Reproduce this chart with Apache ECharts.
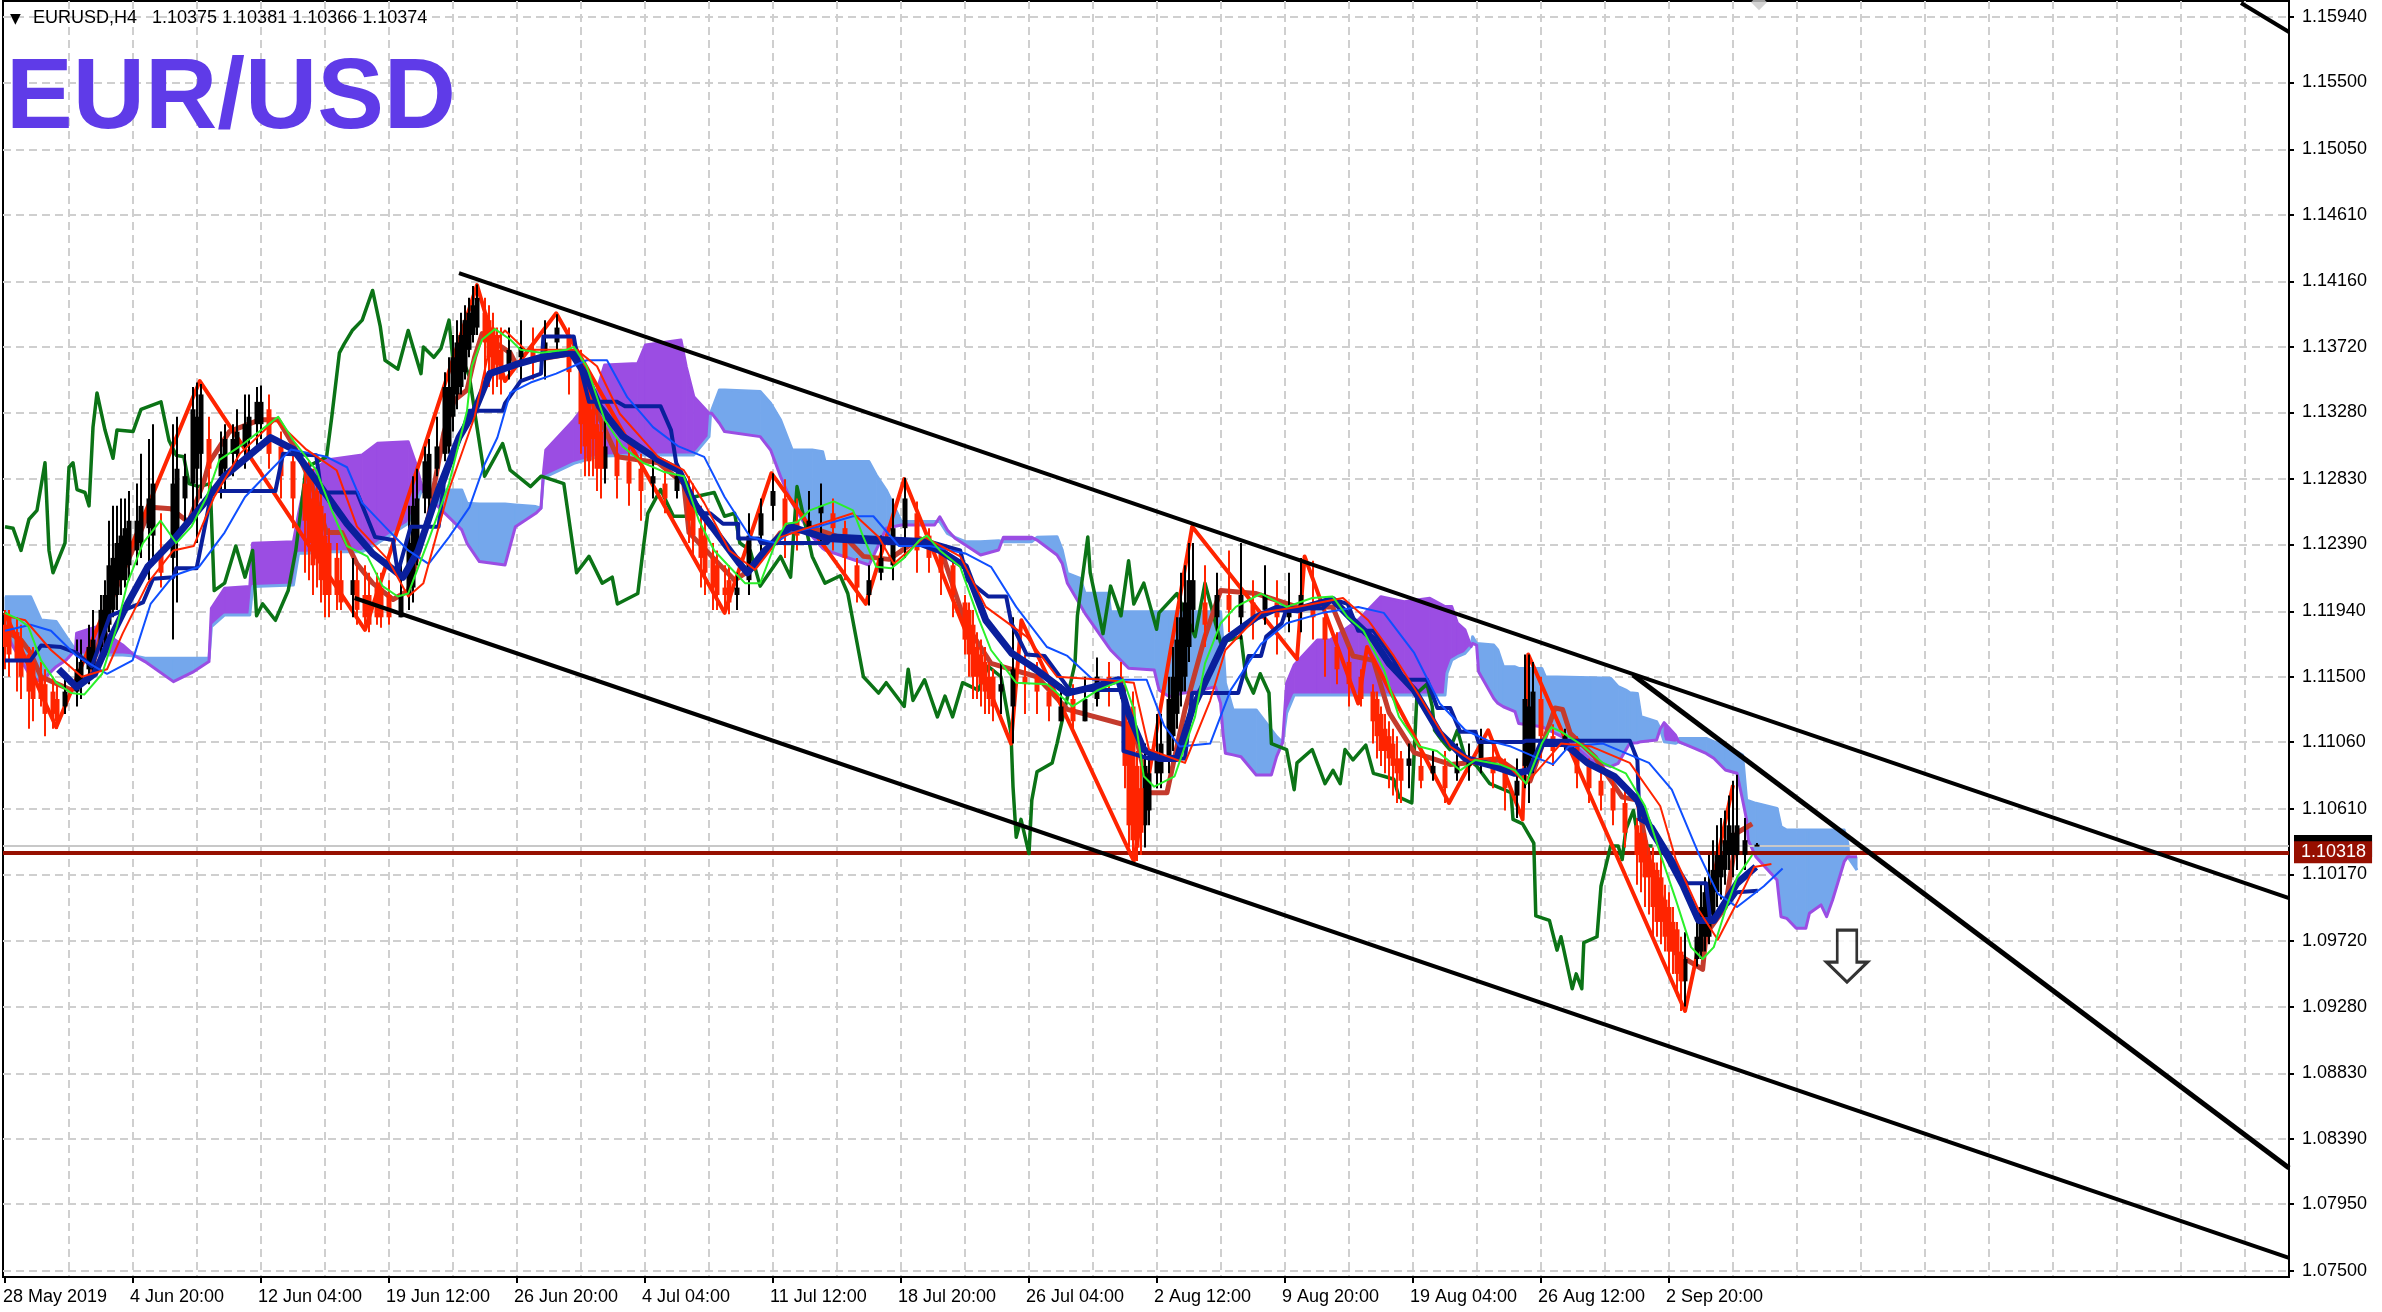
<!DOCTYPE html>
<html><head><meta charset="utf-8">
<style>html,body{margin:0;padding:0;background:#fff}#c{width:2382px;height:1312px}</style>
<script src="https://cdn.jsdelivr.net/npm/echarts@6/dist/echarts.min.js"></script>
</head><body><div id="c"></div>
<script>
const priceTicks=[1.1594,1.155,1.1505,1.1461,1.1416,1.1372,1.1328,1.1283,1.1239,1.1194,1.115,1.1106,1.1061,1.1017,1.0972,1.0928,1.0883,1.0839,1.0795,1.075];
const dateTickBars=[0,32,64,96,128,160,192,224,256,288,320,352,384,416];
const dateTickLabels=['28 May 2019','4 Jun 20:00','12 Jun 04:00','19 Jun 12:00','26 Jun 20:00','4 Jul 04:00','11 Jul 12:00','18 Jul 20:00','26 Jul 04:00','2 Aug 12:00','9 Aug 20:00','19 Aug 04:00','26 Aug 12:00','2 Sep 20:00'];
const gridBars=[16,32,48,64,80,96,112,128,144,160,176,192,208,224,240,256,272,288,304,320,336,352,368,384,400,416,432,448,464,480,496,512,528,544,560];
const bidPrice=1.10318, askPrice=1.10361;
const ohlcHeader='EURUSD,H4   1.10375 1.10381 1.10366 1.10374';

// ichimoku cloud: bar, span A, span B
const cloud=[[0,1.12039,1.11815],[2,1.12039,1.11703],[6.4,1.12039,1.11501],[9,1.11882,1.11467],[12.8,1.11871,1.11568],[15.3,1.1177,1.11613],[17.6,1.1168,1.1168],[17.9,1.11647,1.11793],[23,1.11647,1.11837],[26.2,1.11647,1.1177],[29.4,1.11647,1.11714],[32.5,1.1164,1.1164],[35,1.11624,1.11602],[42.1,1.11624,1.11467],[47.2,1.11624,1.11535],[51,1.11624,1.11602],[51.6,1.11837,1.11961],[54.9,1.11916,1.12095],[61.2,1.11916,1.12107],[61.9,1.12107,1.12398],[72.1,1.12118,1.12409],[73.4,1.12331,1.126],[75.3,1.12331,1.12847],[80.4,1.12342,1.12959],[89.3,1.12342,1.12993],[93.1,1.12398,1.13071],[100.8,1.12533,1.13082],[102.7,1.12645,1.12936],[104,1.12746,1.12802],[104.6,1.12746,1.12746],[105.3,1.12757,1.12723],[114.2,1.12757,1.12488],[115.5,1.12667,1.12398],[118.6,1.12663,1.12275],[125,1.12663,1.12252],[127.6,1.12656,1.1251],[132.7,1.12645,1.126],[134,1.12634,1.12634],[134.6,1.12847,1.12869],[135.2,1.12847,1.13026],[142.2,1.12936,1.13228],[148,1.12981,1.1343],[149.9,1.12986,1.13598],[158.2,1.12993,1.13609],[160.1,1.12993,1.13733],[169,1.12993,1.13766],[170.3,1.12993,1.13587],[172.2,1.12993,1.13385],[176,1.13116,1.13273],[176.4,1.13273,1.13273],[176.7,1.13295,1.13273],[178.6,1.1343,1.13206],[179.9,1.1343,1.1315],[188.8,1.13419,1.13116],[191.4,1.1334,1.13026],[193.9,1.13228,1.12847],[196.8,1.13026,1.12667],[201.8,1.13026,1.12443],[204.4,1.13015,1.12364],[205,1.12948,1.12353],[216,1.12948,1.12252],[217.8,1.12858,1.12353],[220.3,1.12757,1.12499],[224.1,1.12544,1.12521],[232.4,1.12544,1.12521],[233.7,1.12544,1.12577],[235.6,1.12465,1.12488],[237.5,1.12438,1.12432],[240.1,1.12409,1.12387],[243.9,1.12409,1.12319],[248.4,1.12416,1.12353],[249.6,1.12409,1.12438],[256.7,1.12409,1.12438],[258,1.12438,1.1242],[263,1.12443,1.12319],[264.3,1.12353,1.12263],[265.6,1.12196,1.12129],[268.8,1.12162,1.11983],[270,1.12062,1.11927],[275.8,1.12062,1.11703],[276.4,1.11938,1.1168],[280.9,1.11938,1.11557],[287.3,1.11938,1.11546],[288.5,1.11938,1.11411],[291.1,1.11938,1.11366],[294.3,1.11938,1.11389],[297.5,1.11938,1.114],[302.6,1.11938,1.11433],[303.9,1.11938,1.11321],[304.5,1.11725,1.11119],[305.1,1.11456,1.10985],[307,1.11276,1.10974],[309,1.11276,1.10962],[312.8,1.11276,1.10839],[316.6,1.11142,1.10839],[317.9,1.11097,1.10962],[319.4,1.11057,1.11057],[320.4,1.11254,1.11456],[322.3,1.11377,1.11579],[328.1,1.11377,1.11747],[331.3,1.11377,1.11747],[338.3,1.11377,1.11882],[344,1.11377,1.12039],[349.8,1.11377,1.12005],[356.2,1.11377,1.12028],[360,1.11377,1.11972],[360.5,1.11523,1.11972],[361.7,1.11613,1.11972],[363.1,1.11635,1.1186],[365,1.11658,1.11815],[366.5,1.11703,1.11703],[366.9,1.11769,1.11724],[367.9,1.11724,1.11713],[368.4,1.11724,1.11534],[372.2,1.11713,1.11354],[373.2,1.1168,1.11321],[374.6,1.11567,1.11298],[377.5,1.11567,1.11265],[378.4,1.11556,1.11186],[384.2,1.11556,1.11164],[385.1,1.115,1.11152],[390.9,1.11496,1.11074],[396.6,1.11493,1.10939],[401.4,1.11489,1.10895],[403.3,1.11433,1.10917],[405.2,1.1141,1.11007],[406.2,1.11392,1.11052],[408.1,1.11388,1.11056],[409,1.11231,1.11063],[412.9,1.11197,1.11074],[413.8,1.11148,1.11148],[414.8,1.11063,1.11191],[417.6,1.11052,1.11108],[418.4,1.11063,1.11063],[418.6,1.11085,1.11052],[422.4,1.11085,1.11018],[425.3,1.11085,1.10984],[427.2,1.11063,1.10951],[430.1,1.1104,1.10872],[433,1.10995,1.1085],[434.4,1.10973,1.1067],[435.4,1.1067,1.10536],[435.8,1.10659,1.10401],[437.7,1.10648,1.10289],[443,1.10614,1.10132],[444,1.10491,1.09885],[445.4,1.10468,1.09874],[447.8,1.10468,1.09807],[450.2,1.10468,1.09807],[451.1,1.10468,1.09908],[454,1.10468,1.09964],[455.4,1.10468,1.09885],[456.9,1.10468,1.09997],[459.8,1.10468,1.10255],[460.7,1.10379,1.10289],[461,1.10278,1.10278],[463,1.10199,1.10289]];

// lagging span
const chikou=[[0,1.1251],[2,1.125],[4,1.1235],[6,1.1256],[8,1.1262],[10,1.1294],[11,1.1235],[12,1.122],[15,1.124],[16,1.1291],[17,1.1294],[18,1.1276],[20,1.1274],[21,1.1265],[22,1.1318],[23,1.1341],[25,1.1316],[27,1.1297],[28,1.1316],[32,1.1315],[34,1.133],[39,1.1335],[41,1.1309],[42.8,1.1299],[44.7,1.1298],[46,1.128],[48.5,1.1278],[51.3,1.128],[52.3,1.1208],[54.9,1.1213],[57.7,1.1238],[60,1.1217],[61.9,1.1235],[62.9,1.1191],[64.4,1.1199],[67.6,1.1188],[70.8,1.1208],[72.7,1.1235],[75.3,1.1291],[80.4,1.1298],[81.7,1.1325],[83.6,1.1368],[84.8,1.1374],[86.8,1.1383],[89.3,1.139],[91.9,1.141],[93.8,1.1386],[95,1.1363],[98.2,1.1357],[100.8,1.1383],[102,1.1372],[104,1.1354],[104.6,1.1372],[107.2,1.1365],[109,1.1371],[111,1.139],[112.3,1.1354],[114.2,1.1365],[116.1,1.1352],[118,1.1318],[119.9,1.1285],[124.4,1.1307],[126.3,1.1289],[131.4,1.1278],[134,1.1285],[139.7,1.128],[142.9,1.122],[146,1.1231],[149.3,1.1213],[151.8,1.1217],[153.1,1.1199],[158.2,1.1206],[159.5,1.1235],[160.7,1.126],[163.9,1.1276],[167.1,1.1258],[170.3,1.1258],[172.2,1.1271],[177.3,1.1274],[179.9,1.1258],[182.4,1.126],[183.7,1.124],[186.3,1.1235],[188.8,1.1211],[193.9,1.1231],[196.4,1.1217],[198,1.1278],[201.8,1.1231],[205,1.1213],[208.8,1.1218],[210.7,1.1206],[214.6,1.115],[218.4,1.1139],[220.3,1.1146],[224.8,1.113],[225.8,1.1155],[227,1.1134],[229.9,1.1148],[233.1,1.1123],[235,1.1137],[236.9,1.1123],[239.4,1.1146],[243.3,1.1141],[245.8,1.1157],[249,1.115],[251.5,1.1112],[252,1.1076],[252.8,1.1042],[254,1.1054],[256,1.1031],[256.7,1.1067],[258,1.1086],[261.8,1.1092],[263,1.1105],[267.5,1.1159],[268.1,1.1191],[270.7,1.1244],[271.3,1.122],[274.5,1.1179],[276.4,1.1211],[279,1.1191],[280.9,1.1228],[282.2,1.1199],[284.7,1.1213],[287.9,1.1182],[288.5,1.1193],[293,1.1206],[297.5,1.1177],[300,1.1213],[303.9,1.1173],[309,1.1177],[310.2,1.115],[312.1,1.1139],[313.8,1.1152],[316,1.1139],[316.6,1.1105],[320.4,1.1101],[322.3,1.1074],[323,1.1092],[326.8,1.1101],[330,1.1078],[332,1.1087],[333.8,1.1078],[335,1.1101],[337,1.1094],[340.2,1.1104],[342.1,1.1085],[344.7,1.1083],[347.2,1.1081],[348.5,1.1069],[351.7,1.1065],[353,1.1139],[355.5,1.1145],[356.8,1.113],[357.4,1.1114],[359.3,1.1107],[361.2,1.1101],[363.1,1.1114],[365,1.1096],[367.9,1.109],[371.2,1.1078],[376.5,1.1072],[377,1.1054],[379.4,1.1051],[382.2,1.1038],[382.7,1.0989],[386.1,1.0986],[388,1.0966],[389,1.0975],[391.8,1.094],[392.8,1.095],[394.2,1.094],[394.7,1.0971],[398,1.0975],[399,1.1009],[401.4,1.1036],[403.3,1.1036],[404.3,1.1027],[405.2,1.1047],[407.1,1.106],[408.6,1.1036],[411.9,1.1036]];

const zigzag=[[0,1.1193],[12.8,1.1116],[48.7,1.1349],[90,1.11815],[118,1.14136],[125,1.1349],[137.8,1.13946],[179.9,1.1193],[191.6,1.1287],[215.2,1.1199],[224.8,1.1283],[251.5,1.1105],[254.1,1.1188],[282.2,1.1026],[296.8,1.1251],[323,1.1162],[324.9,1.1231],[338.3,1.1132],[340.5,1.1170],[361,1.1065],[370.8,1.1114],[379.4,1.1054],[380.8,1.1165],[420,1.0925],[432,1.1077]];

const fastMA=[[0,1.1193],[3.2,1.1189],[5.8,1.1184],[9,1.1161],[12.8,1.1146],[16.6,1.1139],[19.8,1.1138],[24.3,1.1152],[28,1.1184],[30.6,1.1213],[34.5,1.124],[38.9,1.1255],[42.8,1.124],[46.6,1.1251],[50.4,1.1271],[53.6,1.1296],[58.7,1.1305],[65,1.1318],[68.3,1.1325],[72.1,1.1309],[77.8,1.1289],[81.7,1.1262],[85.5,1.1238],[90.6,1.1231],[94.4,1.1211],[98.2,1.1204],[100.8,1.1206],[105.9,1.1242],[111,1.128],[115.5,1.1329],[116.7,1.1359],[119.3,1.1377],[122.5,1.1384],[126.3,1.1377],[128.9,1.137],[134,1.1368],[140.3,1.137],[142.2,1.1372],[145.4,1.1359],[149.9,1.1323],[154.4,1.1305],[159.5,1.1294],[164.6,1.1288],[169.7,1.1285],[173.5,1.1255],[177.3,1.1235],[181.1,1.1224],[185,1.1213],[188.8,1.1213],[192.6,1.124],[195.2,1.1253],[198,1.1254],[201.2,1.1262],[207.2,1.1268],[212,1.1262],[214.6,1.1244],[217.8,1.1224],[221.6,1.1223],[224.8,1.123],[228.6,1.1242],[230.5,1.1245],[233.7,1.1235],[238.8,1.1224],[243.3,1.119],[246.5,1.1168],[252.8,1.1146],[260.5,1.1145],[266.9,1.113],[273.2,1.1141],[279.6,1.1148],[282.2,1.1128],[284.7,1.1083],[287.3,1.1076],[292.4,1.1083],[297.5,1.1123],[300,1.1159],[303.9,1.1186],[307.7,1.1197],[314,1.1206],[320.4,1.1197],[326.8,1.1203],[331.9,1.1204],[335.7,1.119],[339.6,1.1181],[344.7,1.1155],[348.5,1.1123],[353.6,1.1103],[358,1.11],[363.8,1.1087],[367.6,1.1094],[373.7,1.1091],[377.5,1.1087],[380.3,1.1078],[384.2,1.1105],[386.6,1.1116],[389,1.1113],[393.7,1.1105],[399.5,1.1092],[405.2,1.1085],[410,1.1063],[413.8,1.1031],[417.7,1.1],[421.5,1.0968],[424.4,1.096],[427.2,1.0968],[430.1,1.0993],[433,1.1015],[436.8,1.103]];

const kijun=[[0,1.1161],[6.4,1.1161],[9,1.1171],[14,1.117],[17.9,1.1166],[21.7,1.1157],[26.2,1.1191],[34.5,1.12],[37,1.1216],[42.1,1.1217],[42.8,1.1223],[47.9,1.1223],[51.7,1.1275],[67.6,1.1275],[69.5,1.13],[77.8,1.1299],[79.1,1.1274],[88,1.1274],[92.5,1.1244],[97,1.1242],[98.2,1.122],[101.4,1.1251],[108.4,1.1251],[109.7,1.128],[116.1,1.1329],[124.4,1.1329],[125,1.1334],[128.9,1.1349],[134,1.1354],[134.6,1.1379],[142.2,1.1379],[142.9,1.1368],[146,1.1335],[153.1,1.1335],[155,1.1332],[163.9,1.1332],[166.5,1.1316],[167.8,1.1294],[174.1,1.126],[176.3,1.126],[179.5,1.1253],[183.3,1.1253],[183.3,1.1243],[188.4,1.1243],[189,1.124],[205.6,1.124],[207,1.1245],[221,1.1243],[229.9,1.1242],[238.8,1.1235],[240.7,1.1215],[245.8,1.1204],[250.3,1.1204],[251.6,1.1186],[255.4,1.1165],[259.9,1.1164],[266.2,1.1141],[279.6,1.1141],[279.6,1.11],[286,1.1095],[295,1.1095],[296.8,1.1139],[308.3,1.1139],[310.9,1.1164],[314,1.1164],[315.3,1.1177],[319.2,1.1186],[320.4,1.1196],[329.4,1.1196],[331.9,1.1202],[335.7,1.1199],[338.3,1.1181],[342.1,1.1181],[347.2,1.1161],[349.8,1.1148],[355.5,1.1148],[358.1,1.1129],[361.3,1.1129],[363.8,1.1113],[367.6,1.1113],[368.4,1.1106],[379.4,1.1106],[380.3,1.1107],[406.2,1.1107],[408.1,1.1094],[408.6,1.1054],[411.9,1.1049],[420.5,1.1011],[425.3,1.1011],[426.3,1.0986],[431.1,1.0998],[433,1.1005],[438.2,1.1006]];

const thickMA=[[13.4,1.1155],[17.9,1.1143],[22.4,1.1152],[26.2,1.1175],[30.6,1.1199],[35.7,1.1224],[42.1,1.1242],[49.8,1.1267],[54.9,1.1285],[66.4,1.1311],[72.1,1.1303],[77.8,1.1282],[85.5,1.1253],[91.9,1.1233],[99.5,1.1217],[103.3,1.1235],[108.4,1.1276],[113.5,1.1311],[117.4,1.1329],[121.2,1.1354],[127.6,1.136],[134,1.1365],[141.6,1.1368],[145.4,1.1352],[148.6,1.1332],[154.4,1.1312],[163.3,1.1296],[168.4,1.1289],[172.2,1.1267],[177.3,1.1249],[183.7,1.1226],[185.6,1.122],[190,1.1235],[196.4,1.1251],[205.6,1.1243],[212,1.1242],[221,1.1241],[228.6,1.124],[233.7,1.1235],[240.1,1.1224],[245.2,1.1188],[251.6,1.1166],[256.7,1.1157],[265.6,1.1139],[272,1.1143],[278.4,1.1148],[280.9,1.1125],[284.7,1.1101],[288.5,1.1095],[293,1.1095],[296.8,1.1128],[305.1,1.1175],[312.8,1.119],[317.9,1.1196],[323,1.1195],[331.9,1.1202],[337,1.1188],[342.1,1.1175],[346,1.1159],[352.3,1.1141],[358.7,1.1112],[365.1,1.1095],[372,1.109],[377.5,1.1085],[381.3,1.1087],[384.2,1.1105],[389.9,1.1105],[395.6,1.1092],[402.3,1.1083],[408.1,1.1067],[411.9,1.1045],[415.7,1.1029],[419.6,1.1009],[423.4,1.0986],[427.2,1.0986],[433,1.1011],[437.7,1.1022]];

const tenkan=[[0,1.1181],[3.9,1.1175],[6.4,1.1166],[9,1.115],[16.6,1.1141],[21.1,1.115],[26.2,1.1199],[29.4,1.122],[33.8,1.1247],[36.4,1.1264],[41.5,1.1263],[45.9,1.1254],[49.8,1.1282],[51,1.1294],[56.1,1.1315],[63.8,1.1323],[68.3,1.1323],[72.7,1.1303],[76.6,1.128],[80.4,1.1247],[84.2,1.1247],[88,1.1226],[91.9,1.1213],[97,1.1202],[100.8,1.1208],[105.9,1.1258],[109.7,1.1314],[112.3,1.1336],[115.5,1.1343],[117.4,1.1365],[119.3,1.1381],[126.3,1.1368],[127.6,1.1361],[142.9,1.1368],[147.3,1.1332],[153.1,1.1298],[163.3,1.1294],[169.7,1.128],[171,1.1247],[182.4,1.1215],[187.5,1.1224],[193.9,1.1247],[203.1,1.1249],[210.7,1.1242],[214.6,1.1231],[221,1.1229],[228.6,1.1243],[233.7,1.1238],[240.1,1.1186],[246.5,1.1159],[258,1.115],[265.6,1.1128],[282.2,1.1116],[286,1.1072],[290.5,1.1072],[295,1.1128],[300,1.1177],[303.9,1.1208],[312.8,1.1206],[323,1.1197],[331.9,1.1197],[337,1.1164],[342.1,1.1161],[346,1.1126],[352.3,1.1099],[361.3,1.1091],[373.8,1.1094],[381.3,1.108],[384.2,1.1103],[387.5,1.1129],[389.4,1.1128],[391.3,1.1112],[397.5,1.1096],[404.3,1.1069],[408.1,1.1067],[411,1.1027],[413.8,1.1004],[417.7,1.0964],[424.4,1.0953],[425.3,1.0977],[430.1,1.0995],[433,1.1045],[436.8,1.1051]];

const slowBlue=[[0,1.1181],[6.4,1.1185],[11.5,1.1181],[17.9,1.1164],[25.5,1.1152],[31.9,1.1161],[36.4,1.1199],[42.1,1.1218],[48.5,1.1224],[54.9,1.1247],[60,1.1271],[66.4,1.1289],[71.5,1.1303],[80.4,1.1298],[85.5,1.1291],[89.3,1.1267],[95.7,1.1249],[100.8,1.1235],[105.9,1.1226],[111,1.1244],[116.1,1.1264],[119.9,1.1293],[123.1,1.1311],[126.3,1.1341],[131.4,1.1348],[137.8,1.1354],[145.4,1.1363],[150.5,1.1363],[155.6,1.1338],[162,1.1318],[168.4,1.1305],[174.8,1.1298],[179.9,1.1271],[186.3,1.1244],[192.6,1.124],[196.4,1.1247],[203.1,1.1251],[212,1.1258],[217.1,1.1258],[223.5,1.1238],[231.2,1.1238],[240.1,1.1233],[246.5,1.1224],[252.8,1.1197],[260.5,1.117],[265.6,1.1164],[272,1.1148],[285.4,1.1148],[289.8,1.1117],[293.7,1.1103],[301.3,1.1105],[306.4,1.1141],[314,1.1172],[320.4,1.1186],[329.4,1.1193],[338.3,1.1197],[344.7,1.1193],[352.3,1.1166],[358.7,1.1132],[365.1,1.1114],[370.8,1.1107],[376.5,1.1103],[384.2,1.1094],[387,1.1091],[390.9,1.1103],[399.5,1.1105],[411,1.1092],[416.7,1.1074],[423.4,1.1031],[428.2,1.1004],[433,1.0995],[439.7,1.1009],[444.4,1.1021]];

const slowRed=[[0,1.1191],[5.1,1.1188],[11.5,1.1168],[19.2,1.115],[25.5,1.1155],[29.4,1.1179],[35.7,1.1213],[42.1,1.1235],[47.2,1.1238],[52.3,1.1271],[58.7,1.13],[67.6,1.1323],[75.3,1.1303],[82.9,1.1289],[88,1.1251],[95.7,1.1229],[100.8,1.1204],[104.6,1.1213],[111,1.1276],[117.4,1.1325],[121.2,1.1372],[125,1.1383],[130.1,1.137],[142.9,1.137],[148,1.1359],[153.7,1.1327],[163.3,1.1298],[169.7,1.1289],[174.8,1.1267],[181.1,1.1235],[187.5,1.1222],[193.9,1.1244],[199.3,1.1249],[212,1.126],[218.4,1.1244],[222.2,1.1226],[229.9,1.1244],[238.8,1.1231],[245.2,1.1197],[255.4,1.1177],[263,1.115],[274.5,1.1148],[282.2,1.1146],[286,1.1101],[295,1.1092],[301.3,1.1134],[305.1,1.1168],[314,1.1193],[323,1.1197],[334.5,1.1203],[340.8,1.1188],[347.2,1.1164],[353.6,1.1137],[361.3,1.1103],[366.4,1.1094],[373.6,1.1096],[380.3,1.1078],[389,1.1105],[396.6,1.1103],[406.2,1.1092],[413.8,1.1063],[417.7,1.1027],[423.4,1.0993],[428.2,1.0973],[433,1.0998],[437.3,1.1022],[441.6,1.1024]];

// price bars
const barIndex=[0,3,6,9,12,15,18,21,24,27,30,33,36,39,42,45,48,51,54,57,60,63,66,69,72,75,78,81,84,87,90,93,96,99,102,105,108,111,114,117,120,123,126,129,132,135,138,141,144,147,150,153,156,159,162,165,168,171,174,177,180,183,186,189,192,195,198,201,204,207,210,213,216,219,222,225,228,231,234,237,240,243,246,249,252,255,258,261,264,267,270,273,276,279,282,285,288,291,294,297,300,303,306,309,312,315,318,321,324,327,330,333,336,339,342,345,348,351,354,357,360,363,366,369,372,375,378,381,384,387,390,393,396,399,402,405,408,411,414,417,420,423,426,429,432,435,438];
const barOpen=[1.1185,1.118,1.1165,1.115,1.114,1.113,1.114,1.1155,1.117,1.1195,1.1215,1.1235,1.125,1.1235,1.123,1.127,1.129,1.131,1.1285,1.13,1.1305,1.132,1.133,1.1305,1.1295,1.128,1.1275,1.124,1.1215,1.1205,1.1205,1.121,1.1205,1.119,1.121,1.127,1.129,1.1305,1.1345,1.138,1.1395,1.138,1.136,1.1365,1.137,1.1368,1.1375,1.138,1.136,1.133,1.129,1.13,1.1295,1.129,1.128,1.128,1.1275,1.1275,1.125,1.123,1.121,1.1205,1.1215,1.1245,1.1265,1.127,1.1255,1.125,1.126,1.126,1.125,1.1225,1.1205,1.122,1.1225,1.125,1.126,1.1245,1.1235,1.1225,1.12,1.117,1.115,1.114,1.113,1.115,1.115,1.114,1.112,1.1135,1.112,1.1135,1.115,1.115,1.113,1.105,1.1085,1.1095,1.114,1.1195,1.12,1.119,1.1205,1.119,1.12,1.1195,1.12,1.119,1.1195,1.12,1.119,1.117,1.116,1.115,1.114,1.1115,1.1095,1.109,1.109,1.1085,1.109,1.1085,1.109,1.1095,1.1095,1.1085,1.107,1.1085,1.1135,1.111,1.1105,1.1105,1.109,1.108,1.1075,1.1065,1.105,1.103,1.1015,1.0985,1.0945,1.096,1.0975,1.1015,1.103,1.103,1.1037];
const barClose=[1.117,1.116,1.114,1.1135,1.1125,1.114,1.1155,1.117,1.1195,1.123,1.125,1.1255,1.127,1.122,1.128,1.1285,1.1325,1.129,1.13,1.131,1.132,1.1335,1.13,1.1285,1.127,1.1255,1.123,1.1205,1.12,1.1215,1.119,1.119,1.119,1.1205,1.1265,1.1295,1.1305,1.1345,1.138,1.14,1.1375,1.136,1.137,1.1372,1.1365,1.1375,1.1385,1.1355,1.132,1.131,1.1305,1.1285,1.128,1.1275,1.1285,1.127,1.1285,1.1255,1.123,1.121,1.1205,1.121,1.1245,1.126,1.1275,1.125,1.1245,1.1255,1.1265,1.125,1.123,1.121,1.1215,1.123,1.125,1.127,1.1235,1.123,1.122,1.1205,1.1175,1.115,1.1135,1.1145,1.1155,1.1145,1.114,1.113,1.113,1.112,1.1135,1.115,1.1145,1.1145,1.104,1.109,1.1095,1.1135,1.119,1.1215,1.1185,1.1205,1.1195,1.1205,1.119,1.1205,1.119,1.1195,1.1205,1.119,1.1175,1.1155,1.1145,1.1135,1.112,1.11,1.1085,1.1095,1.108,1.109,1.1075,1.109,1.1095,1.1105,1.1085,1.1075,1.108,1.113,1.111,1.11,1.111,1.1085,1.1075,1.107,1.106,1.1045,1.103,1.1015,1.0985,1.0965,1.096,1.0975,1.101,1.103,1.1045,1.104,1.1037];
const barLow=[1.1155,1.114,1.1115,1.113,1.1115,1.1125,1.113,1.1145,1.1165,1.119,1.121,1.1225,1.1215,1.121,1.1175,1.125,1.124,1.1265,1.127,1.1285,1.129,1.1305,1.129,1.127,1.125,1.122,1.121,1.119,1.1195,1.119,1.1185,1.1185,1.1185,1.119,1.12,1.126,1.1285,1.13,1.134,1.1375,1.1345,1.1345,1.135,1.135,1.135,1.135,1.1365,1.134,1.13,1.1285,1.128,1.127,1.1265,1.1255,1.127,1.126,1.127,1.124,1.121,1.1195,1.1192,1.1195,1.1205,1.123,1.1255,1.123,1.1235,1.1245,1.124,1.1235,1.1215,1.12,1.1198,1.1215,1.1215,1.123,1.122,1.122,1.1205,1.119,1.1165,1.1135,1.1125,1.1125,1.1105,1.1125,1.1125,1.112,1.112,1.1115,1.112,1.113,1.113,1.1135,1.1026,1.1035,1.1075,1.1085,1.113,1.118,1.117,1.1175,1.118,1.1175,1.1175,1.1185,1.1165,1.118,1.118,1.1175,1.115,1.1145,1.113,1.113,1.1105,1.1085,1.1065,1.1075,1.1075,1.108,1.1065,1.108,1.108,1.1085,1.1075,1.106,1.1055,1.1065,1.1095,1.109,1.11,1.1075,1.1065,1.106,1.105,1.1035,1.101,1.099,1.097,1.095,1.0928,1.0955,1.097,1.1,1.1015,1.102,1.10366];
const barHigh=[1.1195,1.119,1.117,1.116,1.115,1.115,1.1175,1.1185,1.1205,1.1265,1.127,1.128,1.131,1.126,1.132,1.13,1.1348,1.1325,1.1315,1.132,1.134,1.1345,1.134,1.1315,1.1305,1.1295,1.1285,1.125,1.1235,1.123,1.1225,1.122,1.1215,1.1225,1.1285,1.1305,1.1325,1.1365,1.1395,1.1413,1.1405,1.1385,1.1385,1.139,1.1385,1.139,1.1394,1.1385,1.137,1.1345,1.133,1.131,1.1305,1.13,1.13,1.129,1.1295,1.1285,1.1265,1.124,1.1225,1.122,1.126,1.127,1.1287,1.1283,1.127,1.1275,1.128,1.127,1.1255,1.123,1.1225,1.1245,1.127,1.1284,1.1268,1.125,1.124,1.123,1.1205,1.118,1.116,1.116,1.119,1.1165,1.116,1.115,1.1145,1.1145,1.115,1.1163,1.116,1.116,1.114,1.1105,1.1125,1.115,1.122,1.124,1.1225,1.122,1.1235,1.124,1.1215,1.1225,1.1215,1.122,1.123,1.1228,1.1195,1.118,1.117,1.1155,1.1145,1.1125,1.111,1.1105,1.11,1.11,1.11,1.1105,1.1105,1.1115,1.1105,1.1095,1.1095,1.1165,1.115,1.1118,1.1115,1.111,1.1095,1.1088,1.108,1.1075,1.1055,1.1035,1.103,1.0995,1.0978,1.099,1.103,1.1055,1.108,1.1055,1.10381];
// further bars in the dense rallies and falls: bar, open, close, low, high
const denseBars=[[19,1.1145,1.116,1.1135,1.1175],[22,1.1155,1.1175,1.115,1.1195],[25,1.1175,1.1205,1.117,1.1215],[26,1.1185,1.1225,1.118,1.1255],[28,1.1205,1.124,1.1195,1.1265],[29,1.1215,1.1245,1.1205,1.127],[31,1.1225,1.1255,1.1215,1.1275],[34,1.124,1.1265,1.123,1.13],[37,1.1245,1.128,1.1225,1.132],[43,1.1245,1.129,1.12,1.1325],[47,1.128,1.133,1.1255,1.1345],[49,1.13,1.134,1.127,1.1347],[55,1.129,1.131,1.1275,1.132],[58,1.13,1.1315,1.129,1.133],[61,1.131,1.1325,1.13,1.134],[64,1.132,1.1335,1.131,1.1346],[101,1.1205,1.124,1.1195,1.1265],[103,1.1235,1.127,1.1225,1.129],[106,1.127,1.13,1.126,1.131],[110,1.13,1.1345,1.1295,1.1355],[112,1.1325,1.1365,1.1315,1.138],[113,1.134,1.1375,1.133,1.139],[115,1.1355,1.139,1.135,1.14],[116,1.137,1.1395,1.1365,1.1405],[118,1.1385,1.1405,1.138,1.1414],[1,1.119,1.1165,1.115,1.1195],[4,1.1175,1.115,1.1135,1.1185],[7,1.116,1.1135,1.112,1.117],[10,1.1145,1.1125,1.111,1.1155],[13,1.1135,1.112,1.1115,1.1145],[76,1.1285,1.124,1.1215,1.1295],[77,1.127,1.1225,1.1205,1.129],[79,1.1265,1.1215,1.12,1.1275],[80,1.1245,1.1205,1.119,1.126],[83,1.123,1.1205,1.1195,1.124],[88,1.1215,1.1195,1.1185,1.1225],[91,1.1205,1.1185,1.118,1.122],[94,1.121,1.119,1.1183,1.122],[121,1.139,1.1365,1.1345,1.14],[122,1.1385,1.1355,1.134,1.1395],[124,1.137,1.135,1.134,1.1385],[145,1.135,1.1305,1.1285,1.136],[146,1.1345,1.1295,1.1285,1.135],[148,1.132,1.129,1.1275,1.1335],[149,1.1315,1.129,1.127,1.1325],[172,1.127,1.1245,1.123,1.128],[175,1.1245,1.122,1.1205,1.1255],[178,1.1225,1.1205,1.1195,1.1235],[181,1.1215,1.12,1.1192,1.1225],[241,1.1195,1.1165,1.115,1.12],[242,1.1185,1.115,1.1135,1.1195],[244,1.1165,1.1145,1.113,1.1175],[245,1.116,1.114,1.1125,1.117],[247,1.115,1.113,1.112,1.1155],[280,1.1125,1.109,1.1075,1.1145],[281,1.112,1.105,1.1035,1.113],[283,1.109,1.1035,1.1026,1.11],[284,1.1075,1.1045,1.103,1.109],[286,1.106,1.1085,1.105,1.11],[289,1.1085,1.1105,1.1075,1.1125],[292,1.111,1.115,1.11,1.117],[293,1.1125,1.1175,1.1115,1.119],[295,1.115,1.12,1.114,1.1225],[296,1.117,1.1215,1.116,1.124],[343,1.1135,1.111,1.1095,1.114],[344,1.1125,1.11,1.109,1.113],[346,1.111,1.1095,1.1075,1.112],[347,1.1105,1.109,1.107,1.1115],[349,1.1095,1.108,1.1065,1.11],[380,1.109,1.1135,1.1075,1.1165],[382,1.1095,1.114,1.1085,1.116],[409,1.1045,1.1025,1.1005,1.105],[410,1.104,1.1015,1.0995,1.1045],[412,1.1025,1.0995,1.0975,1.1035],[413,1.102,1.0985,1.0975,1.1025],[415,1.1,1.0975,1.0965,1.101],[416,1.0995,1.0965,1.095,1.1005],[418,1.098,1.095,1.0935,1.0985],[419,1.0965,1.0945,1.0925,1.0975],[424,1.0965,1.0995,1.096,1.101],[425,1.0975,1.1005,1.0965,1.1015],[427,1.099,1.102,1.0985,1.104],[428,1.1005,1.103,1.0995,1.105],[430,1.102,1.104,1.101,1.106],[431,1.103,1.105,1.102,1.107],[433,1.103,1.105,1.102,1.1084]];

const upperChannel=[[113.5,1.14217],[571,1.1001]];
const lowerChannel=[[87.4,1.1203],[571,1.07588]];
const steepTrend=[[407,1.11511],[571,1.08193]];
const cornerTrend=[[559,1.16034],[571,1.15839]];
const arrowMark=[[460.5,1.0962]];
const shiftMark=[[438.5,1.1604]];

const BLUE='#74a7ec',PURPLE='#9b4de3';
const allBars=barIndex.map((b,i)=>[b,barOpen[i],barClose[i],barLow[i],barHigh[i]]).concat(denseBars);
const line=(name,data,color,width,z)=>({name,type:'line',data,symbol:'none',showSymbol:false,xAxisIndex:0,
  lineStyle:{color,width,join:'round'},itemStyle:{color},z,silent:true,animation:false,clip:true});

const chart=echarts.init(document.getElementById('c'),null,{renderer:'canvas'});
chart.setOption({
  animation:false,backgroundColor:'#fff',
  title:[
    {text:'EUR/USD',left:6,top:50,padding:0,textStyle:{fontFamily:'Liberation Sans',fontWeight:'bold',fontSize:100,color:'#5f3be8'}},
    {text:ohlcHeader,left:33,top:9,padding:0,textStyle:{fontFamily:'Liberation Sans',fontWeight:'normal',fontSize:18,color:'#000'}},
    {text:'▼',left:10,top:12,padding:0,textStyle:{fontFamily:'DejaVu Sans',fontWeight:'normal',fontSize:14,color:'#000'}}
  ],
  grid:{left:3,right:93,top:1,bottom:35,show:true,borderColor:'#000',borderWidth:2,backgroundColor:'#fff'},
  xAxis:[
    {type:'value',min:-0.5,max:571,position:'bottom',axisLine:{show:false},axisTick:{show:false,customValues:gridBars},
     axisLabel:{show:false,customValues:gridBars},
     splitLine:{show:true,lineStyle:{color:'#cfcfcf',width:2,type:[8,5]}}},
    {type:'value',min:-0.5,max:571,position:'bottom',
     axisLine:{show:true,onZero:false,lineStyle:{color:'#000',width:2}},
     axisTick:{show:true,length:6,customValues:dateTickBars,lineStyle:{color:'#000',width:2}},
     axisLabel:{show:true,customValues:dateTickBars.map(b=>b===0?-0.5:b-0.75),align:'left',margin:11,
       fontFamily:'Liberation Sans',fontSize:18,color:'#000',hideOverlap:false,
       formatter:v=>dateTickLabels[dateTickBars.indexOf(v===-0.5?0:v+0.75)]},
     splitLine:{show:false}}
  ],
  yAxis:{type:'value',min:1.0746,max:1.16048,position:'right',
    axisLine:{show:true,onZero:false,lineStyle:{color:'#000',width:2}},
    axisTick:{show:true,length:5,customValues:priceTicks,lineStyle:{color:'#000',width:2}},
    axisLabel:{show:true,customValues:priceTicks,margin:13,padding:[3,0,0,0],fontFamily:'Liberation Sans',fontSize:18,color:'#000',formatter:v=>v.toFixed(5)},
    splitLine:{show:true,lineStyle:{color:'#cfcfcf',width:2,type:[8,5]}}},
  series:[
    {name:'cloud',type:'custom',data:cloud,xAxisIndex:0,z:2,silent:true,clip:true,encode:{x:0,y:[1,2]},
     renderItem(params,api){
       const i=params.dataIndex; if(i>=cloud.length-1) return null;
       const a=cloud[i],b=cloud[i+1];
       return {type:'polygon',shape:{points:[api.coord([a[0],a[1]]),api.coord([b[0],b[1]]),api.coord([b[0],b[2]]),api.coord([a[0],a[2]])]},
         style:{fill:a[1]>=a[2]?BLUE:PURPLE,stroke:a[1]>=a[2]?BLUE:PURPLE,lineWidth:1}};
     }},
    line('spanA',cloud.map(r=>[r[0],r[1]]),BLUE,3,3),
    line('spanB',cloud.map(r=>[r[0],r[2]]),PURPLE,3,3),
    line('chikou',chikou,'#0b7316',3.5,5),
    line('tenkan',tenkan,'#c43b2d',5,6),
    line('zigzag',zigzag,'#ff2400',4,7),
    {name:'bars',type:'custom',data:allBars,xAxisIndex:0,z:8,silent:true,clip:true,encode:{x:0,y:[1,2,3,4]},
     renderItem(params,api){
       const x=api.value(0),o=api.value(1),c=api.value(2),l=api.value(3),h=api.value(4);
       const col=c>=o?'#000':'#ff2400';
       const pl=api.coord([x,l]),ph=api.coord([x,h]),po=api.coord([x,o]),pc=api.coord([x,c]);
       return {type:'group',children:[
         {type:'line',shape:{x1:pl[0],y1:pl[1],x2:ph[0],y2:ph[1]},style:{stroke:col,lineWidth:2}},
         {type:'rect',shape:{x:po[0]-2.5,y:Math.min(po[1],pc[1]),width:5,height:Math.max(2,Math.abs(po[1]-pc[1]))},style:{fill:col}}
       ]};
     }},
    line('kijun',kijun,'#0a1f9c',4,9),
    line('thickMA',thickMA,'#0a1f9c',7,9),
    line('slowBlue',slowBlue,'#0f4fff',2,10),
    line('slowRed',slowRed,'#ff2400',2,10),
    line('fastMA',fastMA,'#2af02a',2,11),
    line('upperChannel',upperChannel,'#000',4,12),
    line('lowerChannel',lowerChannel,'#000',4,12),
    line('steepTrend',steepTrend,'#000',5,12),
    line('cornerTrend',cornerTrend,'#000',4,12),
    {name:'askLine',type:'line',data:[],xAxisIndex:0,z:13,silent:true,
     markLine:{silent:true,symbol:'none',animation:false,precision:5,lineStyle:{color:'#c8c8c8',width:2,type:'solid'},
       data:[{yAxis:askPrice}],
       label:{show:true,position:'end',distance:5,formatter:'1.10374',backgroundColor:'#000',color:'#000',fontFamily:'Liberation Sans',fontSize:18,padding:[2,6,2,7]}}},
    {name:'bidLine',type:'line',data:[],xAxisIndex:0,z:14,silent:true,
     markLine:{silent:true,symbol:'none',animation:false,precision:5,lineStyle:{color:'#960f00',width:4,type:'solid'},
       data:[{yAxis:bidPrice}],
       label:{show:true,position:'end',distance:5,formatter:'1.10318',backgroundColor:'#960f00',color:'#fff',fontFamily:'Liberation Sans',fontSize:18,padding:[2,6,2,7]}}},
    {name:'arrow',type:'scatter',data:arrowMark,xAxisIndex:0,z:15,silent:true,
     symbol:'path://M11,0 L31,0 L31,32 L42,32 L21,52 L0,32 L11,32 Z',symbolSize:[41,52],
     itemStyle:{color:'#fff',borderColor:'#000',borderWidth:3}},
    {name:'shift',type:'scatter',data:shiftMark,xAxisIndex:0,z:15,silent:true,symbol:'diamond',symbolSize:16,itemStyle:{color:'#c8c8c8'}}
  ]
});
</script></body></html>
